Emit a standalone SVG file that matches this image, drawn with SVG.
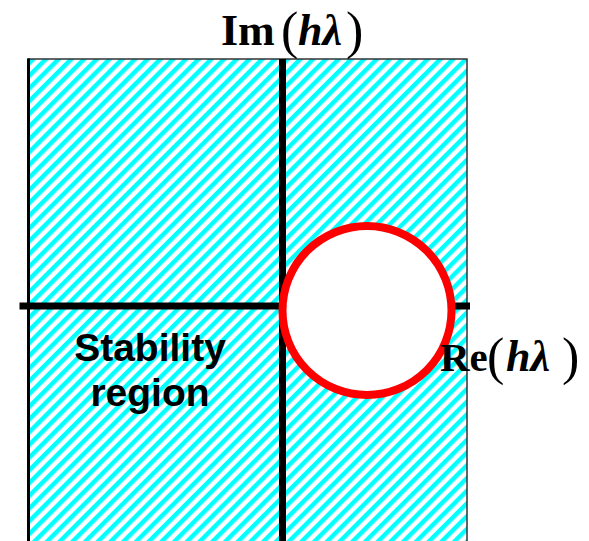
<svg xmlns="http://www.w3.org/2000/svg" width="589" height="541" viewBox="0 0 589 541">
<defs>
<pattern id="hatch" patternUnits="userSpaceOnUse" width="9" height="9" patternTransform="rotate(45)">
<rect x="0" y="0" width="9" height="9" fill="#ffffff"/>
<rect x="0" y="0" width="4.5" height="9" fill="#00ffff"/>
</pattern>
<style>
.ser{font-family:"Liberation Serif","Times New Roman",serif;fill:#000}
.b{font-weight:bold}
.bi{font-weight:bold;font-style:italic}
.par{font-weight:normal}
.lbl{font-family:"Liberation Sans",Arial,sans-serif;font-weight:bold;font-size:39px;fill:#000;text-anchor:middle}
</style>
</defs>
<rect width="589" height="541" fill="#ffffff"/>
<g id="region">
<rect x="28.5" y="59" width="438.5" height="490" fill="url(#hatch)" stroke="#333333" stroke-width="1.5"/>
<line x1="28.5" y1="58.5" x2="28.5" y2="541" stroke="#000" stroke-width="3"/>
</g>
<g id="axes">
<line x1="282.5" y1="59" x2="282.5" y2="541" stroke="#000" stroke-width="7"/>
<line x1="19.5" y1="306" x2="470" y2="306" stroke="#000" stroke-width="7"/>
</g>
<g id="circle">
<circle cx="367" cy="310.5" r="84.5" fill="#ffffff" stroke="#ff0000" stroke-width="8"/>
</g>
<g id="im-label" class="ser">
<text x="221" y="45" font-size="44" class="b">Im</text>
<text x="281" y="48" font-size="52" class="par">(</text>
<text x="298" y="45" font-size="44" class="bi">hλ</text>
<text x="346" y="48" font-size="52" class="par">)</text>
</g>
<g id="re-label" class="ser">
<text x="440" y="371" font-size="41" class="b">Re</text>
<text x="487" y="374" font-size="52" class="par">(</text>
<text x="506" y="371" font-size="44" class="bi">hλ</text>
<text x="562" y="374" font-size="52" class="par">)</text>
</g>
<g id="stability-label">
<text x="150" y="361" class="lbl">Stability</text>
<text x="150" y="406" class="lbl">region</text>
</g>
</svg>
